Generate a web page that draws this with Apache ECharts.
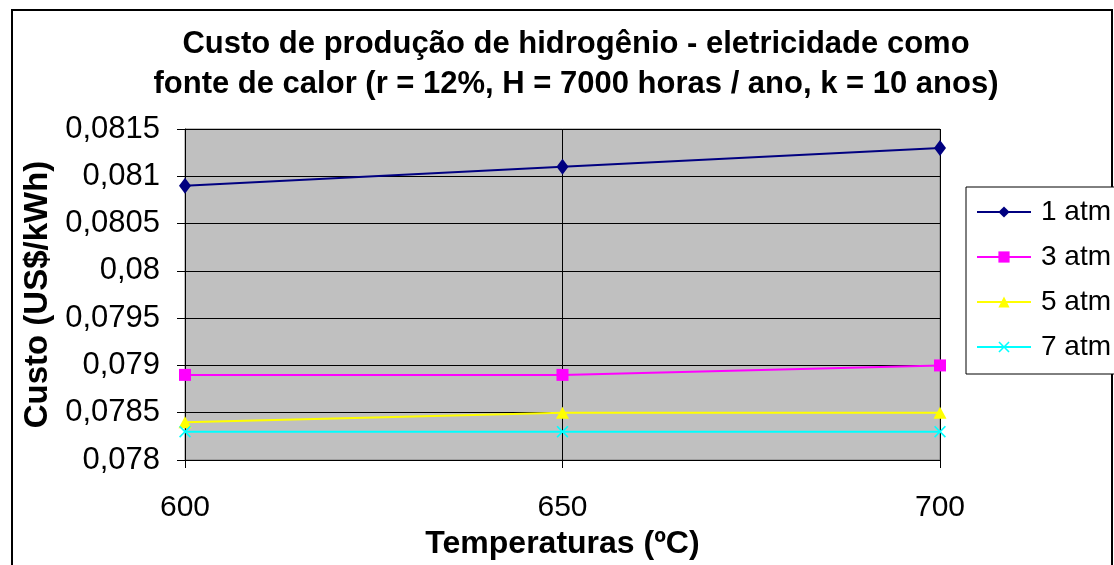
<!DOCTYPE html>
<html><head><meta charset="utf-8">
<script src="https://cdn.jsdelivr.net/npm/echarts@6/dist/echarts.min.js"></script>
<style>html,body{margin:0;padding:0;background:#fff}#c{width:1114px;height:565px}</style>
</head><body><div id="c"></div>
<script>
var categories = ['600', '650', '700'];
var atm1 = [0.0809, 0.0811, 0.0813];
var atm3 = [0.0789, 0.0789, 0.0790];
var atm5 = [0.0784, 0.0785, 0.0785];
var atm7 = [0.0783, 0.0783, 0.0783];
var seriesNames = ['1 atm', '3 atm', '5 atm', '7 atm'];
var titleLines = ['Custo de produção de hidrogênio - eletricidade como', 'fonte de calor (r = 12%, H = 7000 horas / ano, k = 10 anos)'];

var F = '"Liberation Sans", Arial, sans-serif';
var xPath = 'path://M0,1L1,0L5,4L9,0L10,1L6,5L10,9L9,10L5,6L1,10L0,9L4,5Z';
function mk(name, data, color, symbol, size) {
  return {
    name: name, type: 'line', data: data, symbol: symbol, symbolSize: size,
    lineStyle: { color: color, width: 2 }, itemStyle: { color: color },
    emphasis: { disabled: true }, animation: false
  };
}
var chart = echarts.init(document.getElementById('c'));
chart.setOption({
  animation: false,
  graphic: [{ type: 'rect', shape: { x: 12, y: 10, width: 1100, height: 570 }, style: { fill: 'none', stroke: '#000', lineWidth: 2 }, z: -1 }],
  title: {
    text: titleLines.join('\n'), left: 571, textAlign: 'center', top: 19,
    textStyle: { fontFamily: F, fontWeight: 'bold', fontSize: 31, color: '#000', lineHeight: 40 }
  },
  grid: { left: 185, right: 174, top: 129, bottom: 105, show: true, backgroundColor: '#c0c0c0', borderColor: '#808080', borderWidth: 1 },
  legend: {
    orient: 'vertical', left: 966, top: 187, data: seriesNames,
    itemWidth: 54, itemHeight: 14, itemGap: 15,
    padding: [10, 30, 12, 10],
    borderColor: '#000', borderWidth: 1, backgroundColor: '#fff',
    textStyle: { fontFamily: F, fontSize: 28, color: '#000', lineHeight: 30, padding: [0, 0, 0, 5] }
  },
  xAxis: {
    type: 'category', data: categories, boundaryGap: false,
    name: 'Temperaturas (ºC)', nameLocation: 'middle', nameGap: 68,
    nameTextStyle: { fontFamily: F, fontWeight: 'bold', fontSize: 32, color: '#000' },
    axisLine: { lineStyle: { color: '#000', width: 1 } },
    axisTick: { show: true, length: 8, lineStyle: { color: '#000' } },
    axisLabel: { fontFamily: F, fontSize: 30, color: '#000', margin: 33 },
    splitLine: { show: true, lineStyle: { color: '#000', width: 1 } }
  },
  yAxis: {
    type: 'value', min: 0.078, max: 0.0815, interval: 0.0005,
    name: 'Custo (US$/kWh)', nameLocation: 'middle', nameGap: 131, nameRotate: 90,
    nameTextStyle: { fontFamily: F, fontWeight: 'bold', fontSize: 33, color: '#000' },
    axisLine: { show: true, lineStyle: { color: '#000', width: 1 } },
    axisTick: { show: true, length: 8, lineStyle: { color: '#000' } },
    axisLabel: { fontFamily: F, fontSize: 31, color: '#000', margin: 25,
      formatter: function (v) { return String(parseFloat(v.toFixed(5))).replace('.', ','); } },
    splitLine: { show: true, lineStyle: { color: '#000', width: 1 } }
  },
  series: [
    mk(seriesNames[0], atm1, '#000080', 'diamond', [12, 16]),
    mk(seriesNames[1], atm3, '#ff00ff', 'rect', [12, 12]),
    mk(seriesNames[2], atm5, '#ffff00', 'triangle', [13, 12]),
    mk(seriesNames[3], atm7, '#00ffff', xPath, [12, 12])
  ]
});
</script></body></html>
